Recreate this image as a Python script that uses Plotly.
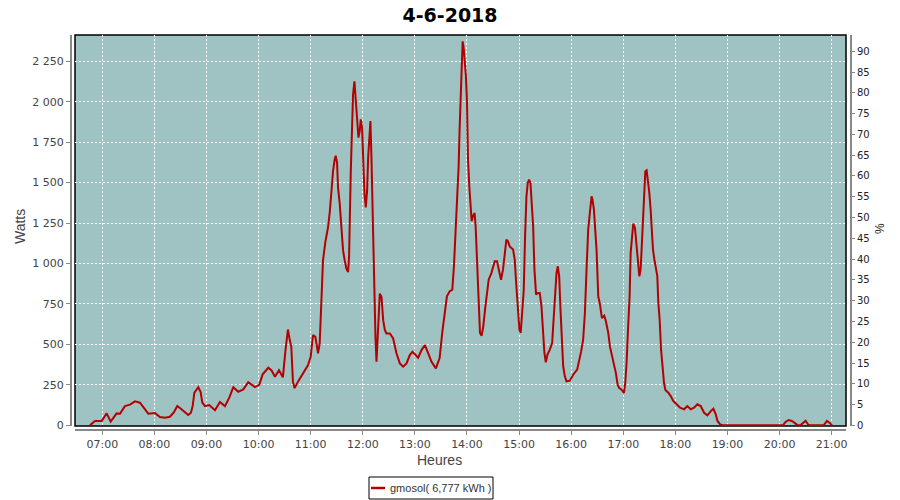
import pandas as pd
import plotly.graph_objects as go

# ---- data (minutes since midnight, watts) ----
minute_of_day = [
    405.8, 411.6, 419.3, 425.1, 429.7, 436.6, 440.4, 446.1, 451.9, 457.7, 463.4, 469.2, 473.0,
    480.7, 486.4, 492.2, 497.9, 502.6, 506.4, 509.5, 515.2, 519.0, 522.1, 524.1, 526.0, 530.6,
    533.3, 535.2, 538.3, 543.2, 549.8, 555.5, 561.3, 566.3, 570.9, 576.6, 582.4, 588.1, 595.8,
    600.8, 604.7, 611.2, 615.0, 618.9, 623.5,
    628.0, 631.0, 633.8, 635.5, 637.7, 639.6, 641.5, 645.4, 651.2, 657.0, 660.0, 662.7, 665.4,
    668.5, 670.4, 672.3, 674.2, 676.9, 680.0, 682.0, 683.8, 685.8, 687.7, 688.8, 690.4, 691.5,
    693.5, 695.4, 697.3, 699.2, 701.2, 703.1, 704.2, 706.2, 707.7, 708.8, 710.4, 711.9, 713.4,
    715.0, 716.5, 717.7, 719.2, 720.4, 722.0, 723.5, 725.0, 726.2, 727.4, 728.8, 730.0, 731.2,
    732.7, 734.6, 735.8, 737.0, 738.5, 739.6, 741.6, 743.5, 745.4, 747.3, 751.2, 755.0, 758.8,
    762.7, 766.5, 770.4, 774.2, 777.3, 780.0, 783.8, 787.7, 791.5, 795.4, 799.2, 804.2,
    808.5, 811.5, 814.2, 816.9, 820.0, 823.1, 825.0, 827.0, 828.9, 830.4, 831.5, 832.7, 833.9,
    835.0, 836.2, 837.3, 838.8, 840.0, 841.2, 842.7, 843.8, 845.4, 846.9, 848.8, 850.0, 851.5,
    853.5, 855.0, 856.9, 858.8, 860.8, 863.1, 865.0, 868.1, 870.0, 872.0, 874.6, 876.5, 879.2,
    881.5, 883.5, 885.4, 887.3, 889.2, 893.1, 895.0, 896.9, 898.8, 900.4, 901.9, 903.5, 905.4,
    906.9, 908.5, 910.0, 911.5, 913.1, 914.6, 916.2, 917.7, 919.6, 921.9, 923.8, 925.8, 927.3,
    929.2, 930.8, 932.7, 935.4, 938.1, 940.0, 941.5, 943.1, 944.6, 946.2, 947.7, 949.2, 950.8,
    952.7, 954.6, 958.5, 962.3, 966.9, 969.2, 971.5, 973.8, 975.8, 977.7, 979.6, 981.5, 983.5,
    984.6, 986.2, 987.7, 989.2, 991.2, 993.1, 995.4, 998.1, 1000.0, 1002.7, 1004.6, 1006.9,
    1009.2, 1011.5, 1013.5, 1015.4, 1018.1, 1020.8, 1022.3, 1023.8, 1025.8, 1027.3, 1028.5,
    1030.0, 1031.5, 1033.5, 1035.4, 1037.3, 1038.5,
    1040.0, 1041.5, 1043.1, 1044.2, 1045.4, 1046.9, 1048.5, 1050.0, 1051.5, 1052.7, 1054.2,
    1055.8, 1057.3, 1059.2, 1060.4, 1061.9, 1063.5, 1065.4, 1066.9, 1068.5, 1071.9, 1074.6,
    1077.7, 1081.5, 1085.4, 1090.0, 1093.8, 1097.7, 1101.5, 1105.4, 1109.2, 1113.1, 1116.9,
    1120.8, 1123.8, 1126.5, 1128.5, 1131.5, 1135.4, 1203.8, 1206.9, 1210.4, 1214.2, 1218.1,
    1220.8, 1224.0, 1226.9, 1230.0, 1233.0, 1235.4, 1250.8, 1254.6, 1258.5, 1260.4,
]
watts = [
    0, 27, 27, 74, 23, 74, 72, 119, 128, 148, 140, 99, 72,
    76, 51, 47, 53, 82, 119, 107, 78, 64, 78, 119, 201, 236,
    206, 140, 119, 125, 93, 144, 119, 171, 236, 207, 222, 267, 236,
    250, 315, 356, 339, 300, 340,
    297, 465, 592, 540, 485, 270, 230, 270, 322, 373, 424, 558, 547,
    445, 506, 814, 1019, 1132, 1224, 1317, 1470, 1573, 1645, 1666, 1624, 1470,
    1367, 1193, 1081, 1019, 968, 947, 1040, 1573, 1798, 2044, 2126, 2024, 1921,
    1778, 1819, 1891, 1839, 1593, 1429, 1347, 1450, 1655, 1798, 1880, 1655, 1306,
    937, 547, 393, 568, 691, 814, 793, 650, 589, 568, 568, 537, 445,
    383, 363, 383, 434, 455, 440, 418, 465, 496, 445, 393, 352,
    416, 571, 705, 797, 828, 838, 983, 1209, 1456, 1601, 1827, 2033, 2280,
    2373, 2332, 2270, 2157, 2002, 1642, 1477, 1353, 1261, 1292, 1312, 1230, 1044,
    777, 571, 554, 612, 715, 838, 900, 941, 972, 1014, 1014, 962, 900,
    962, 1065, 1147, 1137, 1106, 1086, 1024, 859, 694, 591, 571, 674, 838,
    1168, 1415, 1498, 1518, 1498, 1374, 1230, 962, 808, 818, 818, 735, 591,
    447, 389, 437, 468, 509, 674, 838, 941, 983, 921, 715, 499, 365,
    303, 272, 276, 313, 344, 396, 457, 529, 694, 962, 1209, 1312, 1415,
    1395, 1333, 1209, 1086, 797, 750, 663, 678, 643, 571, 488, 437,
    385, 323, 251, 231, 220, 200, 262, 385, 632, 797, 1065,
    1168, 1246, 1220, 1106, 962, 921,
    963, 1148, 1292, 1416, 1570, 1576, 1519, 1436, 1334, 1190, 1087,
    1025, 984, 922, 757, 654, 469, 346, 263, 218, 202, 181,
    150, 130, 109, 99, 119, 99, 109, 130, 119, 78, 62,
    88, 103, 68, 27, 6, 0, 0, 21, 33, 27, 12,
    0, 0, 16, 29, 4, 0, 0, 27, 12, 0,
]

series_name = "gmosol( 6,777 kWh )"
title_text = "4-6-2018"
watt_ticks = [0, 250, 500, 750, 1000, 1250, 1500, 1750, 2000, 2250]
watt_tick_labels = ["0", "250", "500", "750", "1 000", "1 250", "1 500", "1 750", "2 000", "2 250"]
pct_ticks = list(range(0, 95, 5))
x_range_minutes = [388.6, 1276.5]
watt_range = [-4, 2412]
pct_range = [-0.156, 93.92]

base = pd.Timestamp("2018-06-04")
times = [base + pd.to_timedelta(m, unit="min") for m in minute_of_day]
xr = [base + pd.to_timedelta(m, unit="min") for m in x_range_minutes]

W, H = 900, 500
OFF = 8  # page body margin compensation


def px(x):
    return (x - OFF) / W


def py(y):
    return 1 - (y - OFF) / H


FONT = "DejaVu Sans"
LABEL_FONT = "Liberation Sans"
BG = "#9ec3c2"
GRID_DASH = "2px,2px"
RED = "#b40000"

fig = go.Figure()
fig.add_trace(go.Scatter(
    x=times, y=watts, mode="lines", name=series_name,
    line=dict(color=RED, width=2), yaxis="y", showlegend=False,
))
# invisible trace carrying the right (%) axis
fig.add_trace(go.Scatter(
    x=[times[0]], y=[0], mode="lines", yaxis="y2", showlegend=False,
    hoverinfo="skip", line=dict(width=0, color="rgba(0,0,0,0)"),
))

fig.update_layout(
    width=W, height=H,
    margin=dict(l=0, r=0, t=0, b=0),
    paper_bgcolor="white",
    plot_bgcolor=BG,
    showlegend=False,
    font=dict(family=FONT, size=11, color="#444444"),
    title=dict(text="<b>" + title_text + "</b>", x=px(450), xanchor="center",
               y=py(15), yanchor="middle",
               font=dict(family=FONT, size=19, color="black")),
    xaxis=dict(
        type="date", range=xr, domain=[px(75), px(846)],
        anchor="free", position=py(430),
        tickformat="%H:%M", dtick=3600000, tick0="2018-06-04 07:00",
        showgrid=True, gridcolor="white", griddash=GRID_DASH, gridwidth=1,
        showline=True, linecolor="#888888", linewidth=2,
        ticks="outside", ticklen=4, tickcolor="#888888",
        tickfont=dict(family=FONT, size=11, color="#444444"),
        zeroline=False, automargin=False,
    ),
    yaxis=dict(
        range=watt_range, domain=[py(426), py(35)],
        anchor="free", position=px(71),
        tickvals=watt_ticks, ticktext=watt_tick_labels,
        showgrid=True, gridcolor="white", griddash=GRID_DASH, gridwidth=1,
        showline=True, linecolor="#888888", linewidth=2,
        ticks="outside", ticklen=4, tickcolor="#888888",
        tickfont=dict(family=FONT, size=11, color="#444444"),
        zeroline=False, automargin=False,
    ),
    yaxis2=dict(
        range=pct_range, overlaying="y", side="right",
        anchor="free", position=px(851),
        tickvals=pct_ticks,
        showgrid=False, showline=True, linecolor="#888888", linewidth=2,
        ticks="outside", ticklen=3, tickcolor="#888888",
        tickfont=dict(family=FONT, size=10, color="#222222"),
        zeroline=False, automargin=False,
    ),
    shapes=[
        dict(type="rect", xref="x domain", yref="y domain",
             x0=0, x1=1, y0=0, y1=1, line=dict(color="black", width=1.5),
             layer="below"),
        # legend box and line sample
        dict(type="rect", xref="paper", yref="paper",
             x0=px(369), x1=px(493), y0=py(499), y1=py(477),
             line=dict(color="black", width=1), fillcolor="white"),
        dict(type="line", xref="paper", yref="paper",
             x0=px(371), x1=px(385), y0=py(488), y1=py(488),
             line=dict(color=RED, width=2.5)),
    ],
    annotations=[
        dict(text="Watts", x=px(20), y=py(227), xref="paper", yref="paper",
             xanchor="center", yanchor="middle",
             textangle=-90, showarrow=False,
             font=dict(family=LABEL_FONT, size=14, color="#444444")),
        dict(text="Heures", x=px(439), y=py(460), xref="paper", yref="paper",
             xanchor="center", yanchor="middle",
             showarrow=False, font=dict(family=LABEL_FONT, size=14, color="#444444")),
        dict(text="%", x=px(880), y=py(229), xref="paper", yref="paper",
             xanchor="center", yanchor="middle",
             textangle=-90, showarrow=False,
             font=dict(family=LABEL_FONT, size=12, color="#222222")),
        dict(text=series_name, x=px(388), y=py(488), xref="paper", yref="paper",
             xanchor="left", yanchor="middle", showarrow=False,
             font=dict(family=LABEL_FONT, size=11, color="#333333")),
    ],
)

fig.write_html("out.html")
